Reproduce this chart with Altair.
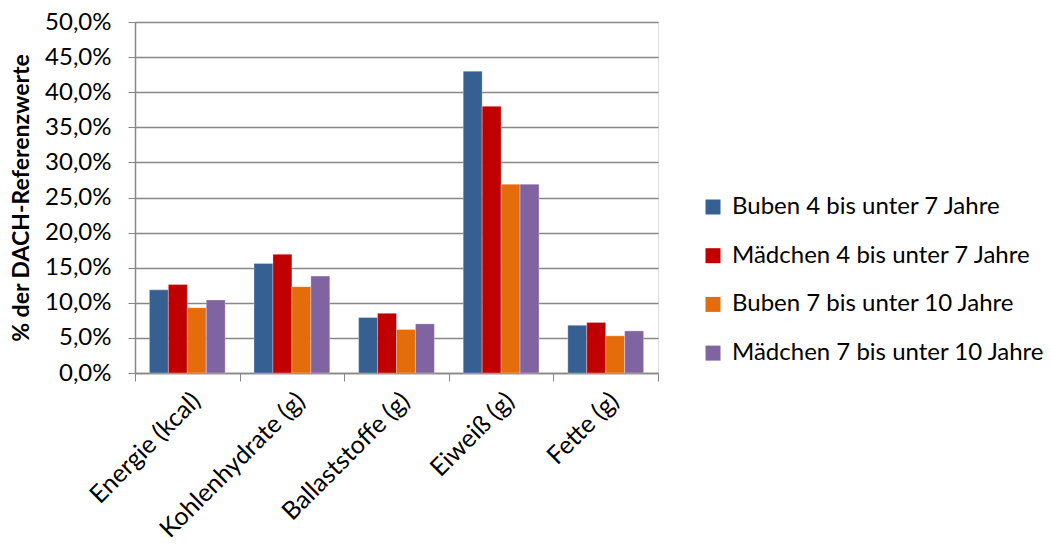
import altair as alt
import pandas as pd

categories = ["Energie (kcal)", "Kohlenhydrate (g)", "Ballaststoffe (g)", "Eiweiß (g)", "Fette (g)"]
series = ["Buben 4 bis unter 7 Jahre", "Mädchen 4 bis unter 7 Jahre",
          "Buben 7 bis unter 10 Jahre", "Mädchen 7 bis unter 10 Jahre"]
buben_4_7 = [0.1185, 0.156, 0.079, 0.430, 0.068]
maedchen_4_7 = [0.126, 0.169, 0.085, 0.380, 0.072]
buben_7_10 = [0.093, 0.123, 0.062, 0.269, 0.053]
maedchen_7_10 = [0.104, 0.138, 0.070, 0.269, 0.060]
colors = ["#376092", "#C00000", "#E46C0A", "#8064A2"]
y_ticks = [0.0, 0.05, 0.10, 0.15, 0.20, 0.25, 0.30, 0.35, 0.40, 0.45, 0.50]

rows = []
for s, vals in zip(series, [buben_4_7, maedchen_4_7, buben_7_10, maedchen_7_10]):
    for c, v in zip(categories, vals):
        rows.append({"Kategorie": c, "Gruppe": s, "Wert": v})
df = pd.DataFrame(rows)

FONT = "Lato"
GRID = "#878787"

chart = alt.Chart(df).mark_bar(stroke="white", strokeWidth=0.5, strokeOpacity=0.6).encode(
    x=alt.X("Kategorie:N", sort=categories,
            scale=alt.Scale(paddingInner=0, paddingOuter=0),
            axis=alt.Axis(title=None, labelAngle=-45, labelAlign="right", labelBaseline="top",
                          labelFont=FONT, labelFontSize=25, labelColor="#000000",
                          labelPadding=7, tickBand="extent", tickSize=8, tickColor=GRID,
                          domainColor=GRID, domainWidth=1.5, grid=False, labelLimit=400)),
    xOffset=alt.XOffset("Gruppe:N", sort=series,
                        scale=alt.Scale(paddingInner=0, paddingOuter=0.76)),
    y=alt.Y("Wert:Q", scale=alt.Scale(domain=[0, 0.5], nice=False),
            axis=alt.Axis(title="% der DACH-Referenzwerte", values=y_ticks,
                          labelExpr="replace(format(datum.value, '.1%'), '.', ',')",
                          labelFont=FONT, labelFontSize=24, labelColor="#000000",
                          labelPadding=17, tickSize=7, tickColor=GRID,
                          domainColor=GRID, domainWidth=1.5,
                          gridColor=GRID, gridWidth=1.5,
                          titleFont=FONT, titleFontSize=23, titleFontWeight="bold",
                          titleColor="#000000", titlePadding=11)),
    color=alt.Color("Gruppe:N", sort=series,
                    scale=alt.Scale(domain=series, range=colors),
                    legend=alt.Legend(title=None, orient="none", legendX=566, legendY=173,
                                      symbolType="square", symbolSize=225, symbolStrokeWidth=0,
                                      labelFont=FONT, labelFontSize=24, labelColor="#000000",
                                      labelOffset=7, rowPadding=24.7, padding=0,
                                      labelLimit=400)),
).properties(
    width=523, height=351,
    autosize=alt.AutoSizeParams(type="none"),
    padding={"left": 127, "top": 14, "right": 385, "bottom": 164},
).configure_view(stroke=None).configure(background="white")

chart.save("out.html", embed_options={"renderer": "svg", "actions": False})
